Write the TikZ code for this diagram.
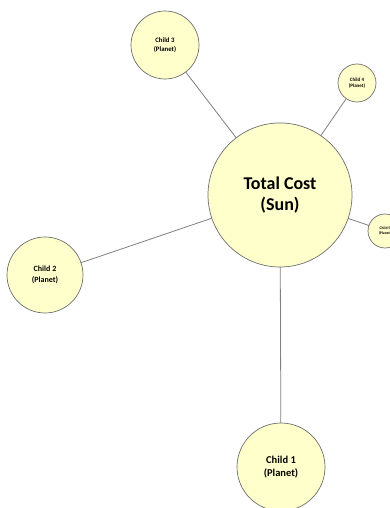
\documentclass[tikz,border=0pt]{standalone}
\usepackage{fontspec}
\setmainfont{Carlito}
\definecolor{planetfill}{HTML}{FFFFCC}
\definecolor{planetline}{HTML}{6E6E6E}
\definecolor{linkline}{HTML}{808080}
\begin{document}
\begin{tikzpicture}[x=1pt,y=1pt,
  body/.style={circle,draw=planetline,line width=0.7pt,fill=planetfill,inner sep=0pt,align=center,font=\bfseries},
  link/.style={draw=linkline,line width=0.8pt}]
\useasboundingbox (0,0) rectangle (390,508);
\begin{scope}
\clip (0,0) rectangle (390,508);
\coordinate (sunc) at (280,313);
\coordinate (c1c) at (281,41);
\coordinate (c2c) at (45,233);
\coordinate (c3c) at (165,463);
\coordinate (c4c) at (357,425);
\coordinate (c5c) at (385,277);
\draw[link] (sunc) -- (c1c);
\draw[link] (sunc) -- (c2c);
\draw[link] (sunc) -- (c3c);
\draw[link] (sunc) -- (c4c);
\draw[link] (sunc) -- (c5c);
\node[body,minimum size=144pt,font=\bfseries\fontsize{18}{21}\selectfont] (sun) at (sunc) {Total Cost\\(Sun)};
\node[body,minimum size=88pt,font=\bfseries\fontsize{10.5}{13.5}\selectfont] (c1) at (c1c) {Child 1\\(Planet)};
\node[body,minimum size=76pt,font=\bfseries\fontsize{8}{10.5}\selectfont] (c2) at (c2c) {Child 2\\(Planet)};
\node[body,minimum size=68pt,font=\bfseries\fontsize{6.8}{9.5}\selectfont] (c3) at (c3c) {Child 3\\(Planet)};
\node[body,minimum size=38pt,font=\bfseries\fontsize{5}{6.5}\selectfont] (c4) at (c4c) {Child 4\\(Planet)};
\node[body,minimum size=34pt,font=\bfseries\fontsize{3.8}{5}\selectfont] (c5) at (c5c) {Child 5\\(Planet)};
\end{scope}
\end{tikzpicture}
\end{document}
